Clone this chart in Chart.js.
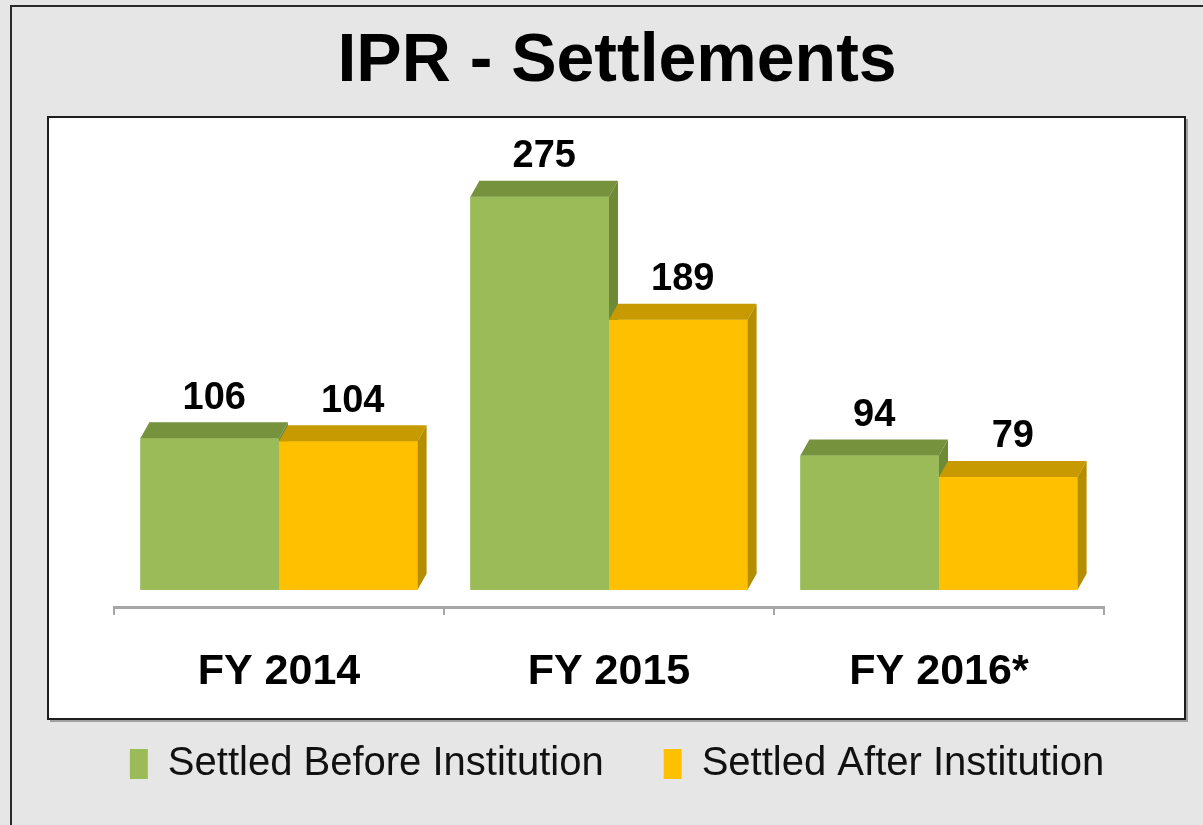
<!DOCTYPE html>
<html>
<head>
<meta charset="utf-8">
<title>IPR - Settlements</title>
<script src="https://cdn.jsdelivr.net/npm/chart.js@4.4.1/dist/chart.umd.min.js"></script>
<style>
    html, body { margin: 0; padding: 0; background: #e6e6e6; }
    #chart { display: block; }
</style>
</head>
<body>
<canvas id="chart" width="1203" height="825"></canvas>
<script>
// Chart data
const years = ['FY 2014', 'FY 2015', 'FY 2016*'];
const settledBefore = [106, 275, 94];
const settledAfter = [104, 189, 79];
const seriesNames = ['Settled Before Institution', 'Settled After Institution'];

const DEPTH_X = 9;
const DEPTH_Y = 16;

// darker shades for the top / side faces of each series
const faceShades = [
    { top: '#76923c', side: '#6e8a37' },
    { top: '#c69a00', side: '#b58d00' }
];

// Grey page, outer frame and the white plot panel
const framePlugin = {
    id: 'frame',
    beforeDraw(chart) {
        const ctx = chart.ctx;
        ctx.save();
        ctx.fillStyle = '#e6e6e6';
        ctx.fillRect(0, 0, chart.width, chart.height);

        ctx.strokeStyle = '#2a2a2a';
        ctx.lineWidth = 2;
        ctx.beginPath();
        ctx.moveTo(11, chart.height);
        ctx.lineTo(11, 6);
        ctx.lineTo(chart.width, 6);
        ctx.stroke();

        ctx.fillStyle = '#a0a0a0';
        ctx.fillRect(50, 119, 1138, 603);
        ctx.fillStyle = '#ffffff';
        ctx.fillRect(48, 117, 1137, 602);
        ctx.strokeStyle = '#1e1e1e';
        ctx.strokeRect(48, 117, 1137, 602);
        ctx.restore();
    }
};

// Block look: per category, draw each series' front, top and side faces
// in series order so the right bar sits in front of the left one's side.
const bar3dPlugin = {
    id: 'bar3d',
    afterDatasetsDraw(chart) {
        const ctx = chart.ctx;
        ctx.save();
        years.forEach((_, j) => {
            chart.data.datasets.forEach((ds, i) => {
                const bar = chart.getDatasetMeta(i).data[j];
                const { x, y, base, width } = bar.getProps(['x', 'y', 'base', 'width'], true);
                const left = x - width / 2;
                const right = x + width / 2;
                const shade = faceShades[i];

                ctx.fillStyle = ds.backgroundColor;
                ctx.fillRect(left, y, width, base - y);

                ctx.fillStyle = shade.top;
                ctx.beginPath();
                ctx.moveTo(left, y);
                ctx.lineTo(left + DEPTH_X, y - DEPTH_Y);
                ctx.lineTo(right + DEPTH_X, y - DEPTH_Y);
                ctx.lineTo(right, y);
                ctx.closePath();
                ctx.fill();

                ctx.fillStyle = shade.side;
                ctx.beginPath();
                ctx.moveTo(right, y);
                ctx.lineTo(right + DEPTH_X, y - DEPTH_Y);
                ctx.lineTo(right + DEPTH_X, base - DEPTH_Y);
                ctx.lineTo(right, base);
                ctx.closePath();
                ctx.fill();
            });
        });
        ctx.restore();
    }
};

// Value labels above each bar
const valueLabelPlugin = {
    id: 'valueLabels',
    afterDatasetsDraw(chart) {
        const ctx = chart.ctx;
        ctx.save();
        ctx.font = 'bold 38px "Liberation Sans", Arial, sans-serif';
        ctx.fillStyle = '#000000';
        ctx.textAlign = 'center';
        ctx.textBaseline = 'middle';
        chart.data.datasets.forEach((ds, i) => {
            chart.getDatasetMeta(i).data.forEach((bar, j) => {
                const { x, y } = bar.getProps(['x', 'y'], true);
                ctx.fillText(String(ds.data[j]), x + DEPTH_X / 2, y - DEPTH_Y - 24);
            });
        });
        ctx.restore();
    }
};

const ctx = document.getElementById('chart').getContext('2d');
const chart = new Chart(ctx, {
    type: 'bar',
    data: {
        labels: years,
        datasets: [{
            label: seriesNames[0],
            data: settledBefore,
            backgroundColor: '#9bbb59',
            borderWidth: 0
        }, {
            label: seriesNames[1],
            data: settledAfter,
            backgroundColor: '#ffc000',
            borderWidth: 0
        }]
    },
    options: {
        responsive: false,
        devicePixelRatio: 1,
        animation: false,
        datasets: {
            bar: {
                categoryPercentage: 0.84,
                barPercentage: 1.0
            }
        },
        layout: {
            padding: { left: 31, right: 0, top: 0, bottom: 31 }
        },
        scales: {
            x: {
                grid: {
                    display: true,
                    offset: true,
                    drawOnChartArea: false,
                    drawTicks: true,
                    tickLength: 8,
                    color: '#a6a6a6',
                    lineWidth: 2
                },
                border: { display: true, color: '#a6a6a6', width: 3 },
                ticks: {
                    color: '#000000',
                    padding: 31,
                    font: { family: '"Liberation Sans", Arial, sans-serif', size: 43, weight: 'bold' }
                },
                afterFit(scale) { scale.height = 77; }
            },
            y: {
                position: 'left',
                min: -12,
                max: 315,
                grid: { display: false },
                border: { display: false },
                ticks: { display: false },
                afterFit(scale) { scale.width = 83; }
            },
            yRight: {
                type: 'linear',
                position: 'right',
                grid: { display: false },
                border: { display: false },
                ticks: { display: false },
                afterFit(scale) { scale.width = 99; }
            }
        },
        plugins: {
            title: {
                display: true,
                text: 'IPR - Settlements',
                color: '#000000',
                font: { family: '"Liberation Sans", Arial, sans-serif', size: 68, weight: 'bold', lineHeight: 1.2 },
                padding: { top: 21, bottom: 37 }
            },
            legend: {
                display: true,
                position: 'bottom',
                labels: {
                    color: '#111111',
                    boxWidth: 18,
                    boxHeight: 30,
                    padding: 60,
                    font: { family: '"Liberation Sans", Arial, sans-serif', size: 40 }
                }
            },
            tooltip: { enabled: false }
        }
    },
    plugins: [framePlugin, bar3dPlugin, valueLabelPlugin]
});
</script>
</body>
</html>
